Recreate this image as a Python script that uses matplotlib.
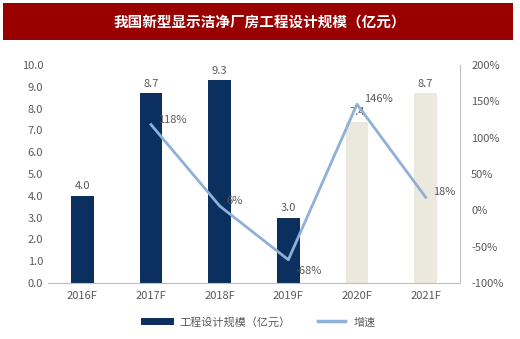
import numpy as np
import matplotlib
matplotlib.use("Agg")
import matplotlib.pyplot as plt
from matplotlib.patches import Rectangle

plt.rcParams['font.family'] = ['Noto Sans CJK SC', 'DejaVu Sans']

years = ['2016F', '2017F', '2018F', '2019F', '2020F', '2021F']
scale = [4.0, 8.7, 9.3, 3.0, 7.4, 8.7]
growth_years = ['2017F', '2018F', '2019F', '2020F', '2021F']
growth = [118, 6, -68, 146, 18]
growth_labels = ['118%', '6%', '-68%', '146%', '18%']

navy = '#0b2f5f'
beige = '#ebe8dd'
line_c = '#8eb0d9'
grey = '#595959'

fig = plt.figure(figsize=(5.2, 3.39), dpi=100)

# title banner
fig.patches.append(Rectangle((3/520, 1-40/339), 510/520, 37/339, transform=fig.transFigure,
                             facecolor='#990000', edgecolor='none'))
fig.text(0.5, 1-21.5/339, '我国新型显示洁净厂房工程设计规模（亿元）', color='white',
         fontsize=10.5, fontweight='bold', ha='center', va='center')

ax = fig.add_axes([48/520, 1-283/339, 412/520, 218/339])
x = np.arange(len(years))
colors = [navy] * 4 + [beige] * 2
bars = ax.bar(x, scale, width=0.33, color=colors, zorder=2)
for xi, v in zip(x, scale):
    ax.text(xi, v + 0.2, f'{v:.1f}', ha='center', va='bottom', fontsize=8, color=grey)

ax.set_ylim(0, 10)
ax.set_yticks(np.arange(0, 10.1, 1))
ax.set_yticklabels([f'{v:.1f}' for v in np.arange(0, 10.1, 1)])
ax.set_xlim(-0.5, len(years) - 0.5)
ax.set_xticks(x)
ax.set_xticklabels(years)
ax.tick_params(axis='both', length=0, labelsize=8, colors=grey)
ax.tick_params(axis='x', pad=6)
for s in ['top', 'left', 'right']:
    ax.spines[s].set_visible(False)
ax.spines['bottom'].set_color('#bfbfbf')

ax2 = ax.twinx()
gx = [years.index(y) for y in growth_years]
ax2.plot(gx, growth, color=line_c, lw=2, zorder=3)
for xi, v, lab in zip(gx, growth, growth_labels):
    dy = -12 if v < 0 else 0
    ax2.annotate(lab, (xi, v), xytext=(5, dy), textcoords='offset points',
                 ha='left', va='bottom', fontsize=8, color=grey)
ax2.set_ylim(-100, 200)
ax2.set_yticks(np.arange(-100, 201, 50))
ax2.set_yticklabels([f'{v}%' for v in range(-100, 201, 50)])
ax2.tick_params(axis='y', length=0, labelsize=8, colors=grey, pad=8)
for s in ['top', 'left', 'bottom']:
    ax2.spines[s].set_visible(False)
ax2.spines['right'].set_color('#bfbfbf')

from matplotlib.lines import Line2D
handles = [Line2D([0], [0], color=navy, lw=5), Line2D([0], [0], color=line_c, lw=2.5)]
fig.legend(handles, ['工程设计规模（亿元）', '增速'], loc='center', bbox_to_anchor=(0.5, 1-322/339),
           ncol=2, frameon=False, fontsize=8, labelcolor=grey, handlelength=2.4, columnspacing=2.5)

fig.savefig('out.png', dpi=100)
